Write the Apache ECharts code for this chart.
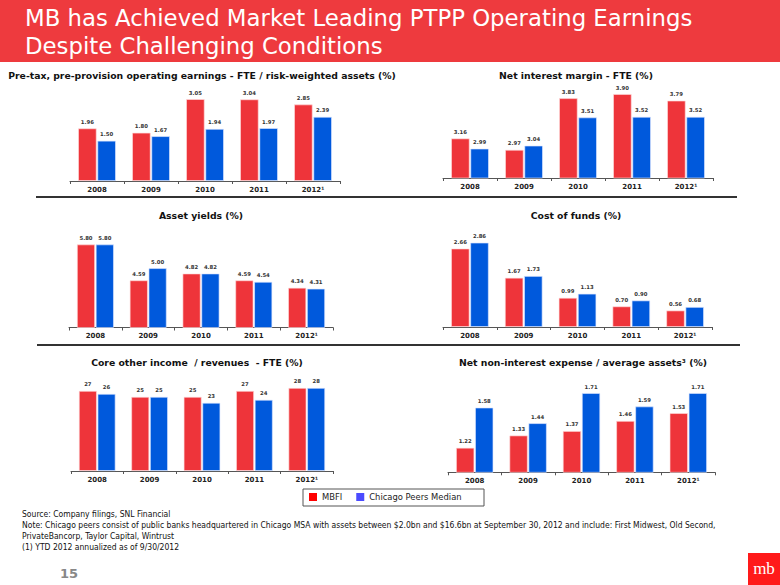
<!DOCTYPE html>
<html>
<head>
<meta charset="utf-8">
<script src="https://cdn.jsdelivr.net/npm/echarts@6/dist/echarts.min.js"></script>
<style>
html,body{margin:0;padding:0;background:#fff;}
#c{width:780px;height:585px;}
</style>
</head>
<body>
<div id="c"></div>
<script>
// ---- data ----
const years = ['2008', '2009', '2010', '2011', '2012¹'];
const seriesNames = ['MBFI', 'Chicago Peers Median'];

const ptppMBFI = [1.96, 1.80, 3.05, 3.04, 2.85];
const ptppPeers = [1.50, 1.67, 1.94, 1.97, 2.39];

const nimMBFI = [3.16, 2.97, 3.83, 3.90, 3.79];
const nimPeers = [2.99, 3.04, 3.51, 3.52, 3.52];

const yieldMBFI = [5.80, 4.59, 4.82, 4.59, 4.34];
const yieldPeers = [5.80, 5.00, 4.82, 4.54, 4.31];

const cofMBFI = [2.66, 1.67, 0.99, 0.70, 0.56];
const cofPeers = [2.86, 1.73, 1.13, 0.90, 0.68];

const coreMBFI = [27, 25, 25, 27, 28];
const corePeers = [26, 25, 23, 24, 28];

const nieMBFI = [1.22, 1.33, 1.37, 1.46, 1.53];
const niePeers = [1.58, 1.44, 1.71, 1.59, 1.71];

const chartTitles = [
  'Pre-tax, pre-provision operating earnings - FTE / risk-weighted assets (%)',
  'Net interest margin - FTE (%)',
  'Asset yields (%)',
  'Cost of funds (%)',
  'Core other income  / revenues  - FTE (%)',
  'Net non-interest expense / average assets³ (%)'
];
const mainTitle = ['MB has Achieved Market Leading PTPP Operating Earnings', 'Despite Challenging Conditions'];
const footnotes = [
  'Source: Company filings, SNL Financial',
  'Note: Chicago peers consist of public banks headquartered in Chicago MSA with assets between $2.0bn and $16.6bn at September 30, 2012 and include: First Midwest, Old Second,',
  'PrivateBancorp, Taylor Capital, Wintrust',
  '(1) YTD 2012 annualized as of 9/30/2012'
];
const pageNumber = '15';

// ---- layout ----
const panels = [
  {mbfi: ptppMBFI, peers: ptppPeers, dec: 2, grid: {left: 70, top: 87, width: 270, height: 94}, min: 0, max: 3.5, tx: 202, ty: 75},
  {mbfi: nimMBFI, peers: nimPeers, dec: 2, grid: {left: 443, top: 88, width: 270, height: 90}, min: 2.5, max: 4.0, tx: 576, ty: 75},
  {mbfi: yieldMBFI, peers: yieldPeers, dec: 2, grid: {left: 69, top: 238.5, width: 264, height: 89}, min: 3, max: 6, tx: 201, ty: 215},
  {mbfi: cofMBFI, peers: cofPeers, dec: 2, grid: {left: 443, top: 238.5, width: 269, height: 88.5}, min: 0, max: 3, tx: 576, ty: 215},
  {mbfi: coreMBFI, peers: corePeers, dec: 0, grid: {left: 71, top: 382, width: 262, height: 89}, min: 0, max: 30, tx: 197, ty: 362},
  {mbfi: nieMBFI, peers: niePeers, dec: 2, grid: {left: 448, top: 383, width: 267, height: 89.3}, min: 1.0, max: 1.8, tx: 583, ty: 362}
];

const RED = '#EE343A';
const BLUE = '#0059DC';
const FONT = "'DejaVu Sans', Verdana, sans-serif";

const grids = [], xAxes = [], yAxes = [], series = [], graphics = [];

panels.forEach((p, i) => {
  grids.push(Object.assign({containLabel: false}, p.grid));
  xAxes.push({
    type: 'category', gridIndex: i, data: years,
    axisLine: {lineStyle: {color: '#555', width: 1}},
    axisTick: {show: true, length: 3, lineStyle: {color: '#555'}},
    axisLabel: {color: '#222', fontSize: 7, fontWeight: 'bold', fontFamily: FONT, margin: 5}
  });
  yAxes.push({
    type: 'value', gridIndex: i, min: p.min, max: p.max,
    show: false, splitLine: {show: false}
  });
  const lbl = {
    show: true, position: 'top', distance: 4,
    fontSize: 5.3, fontWeight: 'bold', color: '#333', fontFamily: FONT,
    formatter: (d) => d.value.toFixed(p.dec)
  };
  series.push({
    name: seriesNames[0], type: 'bar', xAxisIndex: i, yAxisIndex: i, data: p.mbfi,
    barCategoryGap: '30%', barGap: '4%',
    itemStyle: {color: RED, borderColor: 'rgba(255,220,220,0.8)', borderWidth: 0.8},
    label: lbl, animation: false
  });
  series.push({
    name: seriesNames[1], type: 'bar', xAxisIndex: i, yAxisIndex: i, data: p.peers,
    barCategoryGap: '30%', barGap: '4%',
    itemStyle: {color: BLUE, borderColor: 'rgba(220,230,255,0.8)', borderWidth: 0.8},
    label: lbl, animation: false
  });
  graphics.push({
    type: 'text', x: p.tx, y: p.ty,
    style: {text: chartTitles[i], fill: '#111', font: "bold 9.3px " + FONT, textAlign: 'center', textVerticalAlign: 'middle'}
  });
});

// title bar
graphics.unshift({type: 'rect', shape: {x: 0, y: 0, width: 780, height: 62}, style: {fill: '#EE3A3E'}});
graphics.push({type: 'text', x: 25, y: 18, style: {text: mainTitle[0], fill: '#fff', font: "22.8px " + FONT, textVerticalAlign: 'middle'}});
graphics.push({type: 'text', x: 25, y: 46, style: {text: mainTitle[1], fill: '#fff', font: "22.8px " + FONT, textVerticalAlign: 'middle'}});

// separators
graphics.push({type: 'line', shape: {x1: 36, y1: 197, x2: 737, y2: 197}, style: {stroke: '#333', lineWidth: 1.8}});
graphics.push({type: 'line', shape: {x1: 37, y1: 345, x2: 740, y2: 345}, style: {stroke: '#333', lineWidth: 1.8}});

// legend box
graphics.push({type: 'rect', shape: {x: 303, y: 489, width: 181, height: 17}, style: {fill: '#fff', stroke: '#555', lineWidth: 1}, z: 0});

// footnotes
footnotes.forEach((t, k) => {
  graphics.push({type: 'text', x: 22, y: 514 + k * 11, style: {text: t, fill: '#111', font: "8.5px 'Liberation Sans Narrow', 'DejaVu Sans Condensed', Arial, sans-serif", textVerticalAlign: 'middle'}});
});

// page number
graphics.push({type: 'text', x: 60, y: 573, style: {text: pageNumber, fill: '#888', font: "bold 13px " + FONT, textVerticalAlign: 'middle'}});

// logo
graphics.push({type: 'rect', shape: {x: 748, y: 553, width: 32, height: 32}, style: {fill: '#FF1A1A'}});
graphics.push({type: 'text', x: 764, y: 568, style: {text: 'mb', fill: '#fff', font: "17px 'Liberation Serif', 'DejaVu Serif', serif", textAlign: 'center', textVerticalAlign: 'middle'}});

const chart = echarts.init(document.getElementById('c'), null, {renderer: 'svg'});
chart.setOption({
  animation: false,
  grid: grids,
  xAxis: xAxes,
  yAxis: yAxes,
  series: series,
  legend: {
    left: 307, top: 490, itemWidth: 8, itemHeight: 8, itemGap: 14, padding: [3, 2],
    icon: 'rect',
    data: [
      {name: seriesNames[0], itemStyle: {color: '#FF0000', borderWidth: 0}},
      {name: seriesNames[1], itemStyle: {color: '#4B4BFF', borderWidth: 0}}
    ],
    textStyle: {fontSize: 8.4, color: '#222', fontFamily: FONT, padding: [0, 0, 0, 0]},
    selectedMode: false, z: 10
  },
  graphic: graphics
});
</script>
</body>
</html>
